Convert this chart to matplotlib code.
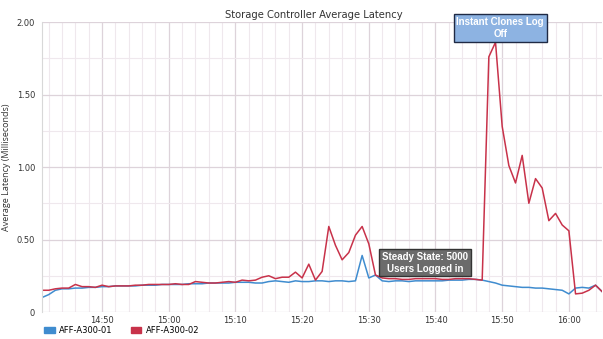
import numpy as np
import pandas as pd
import matplotlib
matplotlib.use("Agg")
import matplotlib.pyplot as plt
import matplotlib.dates as mdates
from matplotlib.patches import Patch

# one sample per minute, starting 14:41
start = "2017-01-01 14:41"
a300_01 = [0.10, 0.12, 0.15, 0.16, 0.16, 0.165, 0.165, 0.17, 0.17, 0.175,
           0.175, 0.18, 0.18, 0.18, 0.18, 0.185, 0.185, 0.185, 0.19, 0.19,
           0.19, 0.19, 0.195, 0.195, 0.195, 0.20, 0.20, 0.20, 0.20, 0.205,
           0.205, 0.205, 0.20, 0.20, 0.21, 0.215, 0.21, 0.205, 0.215, 0.21,
           0.21, 0.215, 0.215, 0.21, 0.215, 0.215, 0.21, 0.215, 0.39, 0.235,
           0.255, 0.215, 0.21, 0.215, 0.215, 0.21, 0.215, 0.215, 0.215, 0.215,
           0.215, 0.22, 0.22, 0.22, 0.225, 0.225, 0.22, 0.21, 0.20, 0.185,
           0.18, 0.175, 0.17, 0.17, 0.165, 0.165, 0.16, 0.155, 0.15, 0.125,
           0.165, 0.17, 0.165, 0.185, 0.14]
a300_02 = [0.15, 0.15, 0.16, 0.165, 0.165, 0.19, 0.175, 0.175, 0.17, 0.185,
           0.175, 0.18, 0.18, 0.18, 0.185, 0.185, 0.19, 0.19, 0.19, 0.19,
           0.195, 0.19, 0.19, 0.21, 0.205, 0.20, 0.20, 0.205, 0.21, 0.205,
           0.22, 0.215, 0.22, 0.24, 0.25, 0.23, 0.24, 0.24, 0.275, 0.235,
           0.33, 0.22, 0.28, 0.59, 0.46, 0.36, 0.41, 0.53, 0.59, 0.47,
           0.255, 0.235, 0.23, 0.23, 0.225, 0.225, 0.23, 0.23, 0.23, 0.23,
           0.225, 0.225, 0.23, 0.23, 0.23, 0.225, 0.22, 1.76, 1.86, 1.28,
           1.01, 0.89, 1.08, 0.75, 0.92, 0.855, 0.63, 0.68, 0.60, 0.56,
           0.125, 0.13, 0.15, 0.185, 0.14]
series = ["AFF-A300-01", "AFF-A300-02"]
colors = ["#3f8ccf", "#c8324a"]
y_ticks = [0, 0.5, 1.0, 1.5, 2.0]
y_labels = ["0", "0.50", "1.00", "1.50", "2.00"]

times = pd.date_range(start, periods=len(a300_01), freq="1min")

fig = plt.figure(figsize=(6.03, 3.39), dpi=100)
ax = fig.add_axes([0.0697, 0.0796, 0.929, 0.8555])

ax.plot(times, a300_01, color=colors[0], lw=1.1)
ax.plot(times, a300_02, color=colors[1], lw=1.1)

ax.set_xlim(times[0], times[-1])
ax.set_ylim(0, 2.0)
ax.set_yticks(y_ticks)
ax.set_yticklabels(y_labels)
ax.set_yticks(np.arange(0, 2.01, 0.25), minor=True)
ax.xaxis.set_major_locator(mdates.MinuteLocator(byminute=range(0, 60, 10)))
ax.xaxis.set_minor_locator(mdates.MinuteLocator(byminute=range(0, 60, 2)))
ax.xaxis.set_major_formatter(mdates.DateFormatter("%H:%M"))
ax.grid(True, which="major", color="#ddd3da", lw=0.9)
ax.grid(True, which="minor", color="#efe8ed", lw=0.8)
ax.set_axisbelow(True)
ax.tick_params(which="both", length=0, labelsize=6, colors="#333333")
ax.tick_params(axis="x", pad=3)
ax.tick_params(axis="y", pad=5)
for s in ["top", "right", "bottom"]:
    ax.spines[s].set_visible(False)
ax.spines["left"].set_color("#d8d8d8")

ax.set_ylabel("Average Latency (Milliseconds)", fontsize=6.5, color="#333333",
              family="Open Sans", labelpad=4)
fig.text(0.52, 0.957, "Storage Controller Average Latency", ha="center", va="center",
         fontsize=7.2, color="#333333")

# callouts
ax.text(times[0] + pd.Timedelta(minutes=68.7), 1.96, "Instant Clones Log\nOff",
        ha="center", va="center", fontsize=7, color="white", fontweight="bold",
        family="Liberation Sans", linespacing=1.25,
        bbox=dict(boxstyle="square,pad=0.28", fc="#8db3e2", ec="#1f2a44", lw=1))
ax.text(times[0] + pd.Timedelta(minutes=57.4), 0.34, "Steady State: 5000\nUsers Logged in",
        ha="center", va="center", fontsize=7, color="white", fontweight="bold",
        family="Liberation Sans", linespacing=1.25,
        bbox=dict(boxstyle="square,pad=0.28", fc="#6b6b6b", ec="#333333", lw=1))

handles = [Patch(color=c, label=n) for c, n in zip(colors, series)]
fig.legend(handles=handles, loc="lower left", bbox_to_anchor=(0.06, -0.01), ncol=2,
           frameon=False, fontsize=6, handlelength=1.3, handleheight=0.7,
           columnspacing=2.2, handletextpad=0.5)

plt.savefig("out.png", dpi=100)
